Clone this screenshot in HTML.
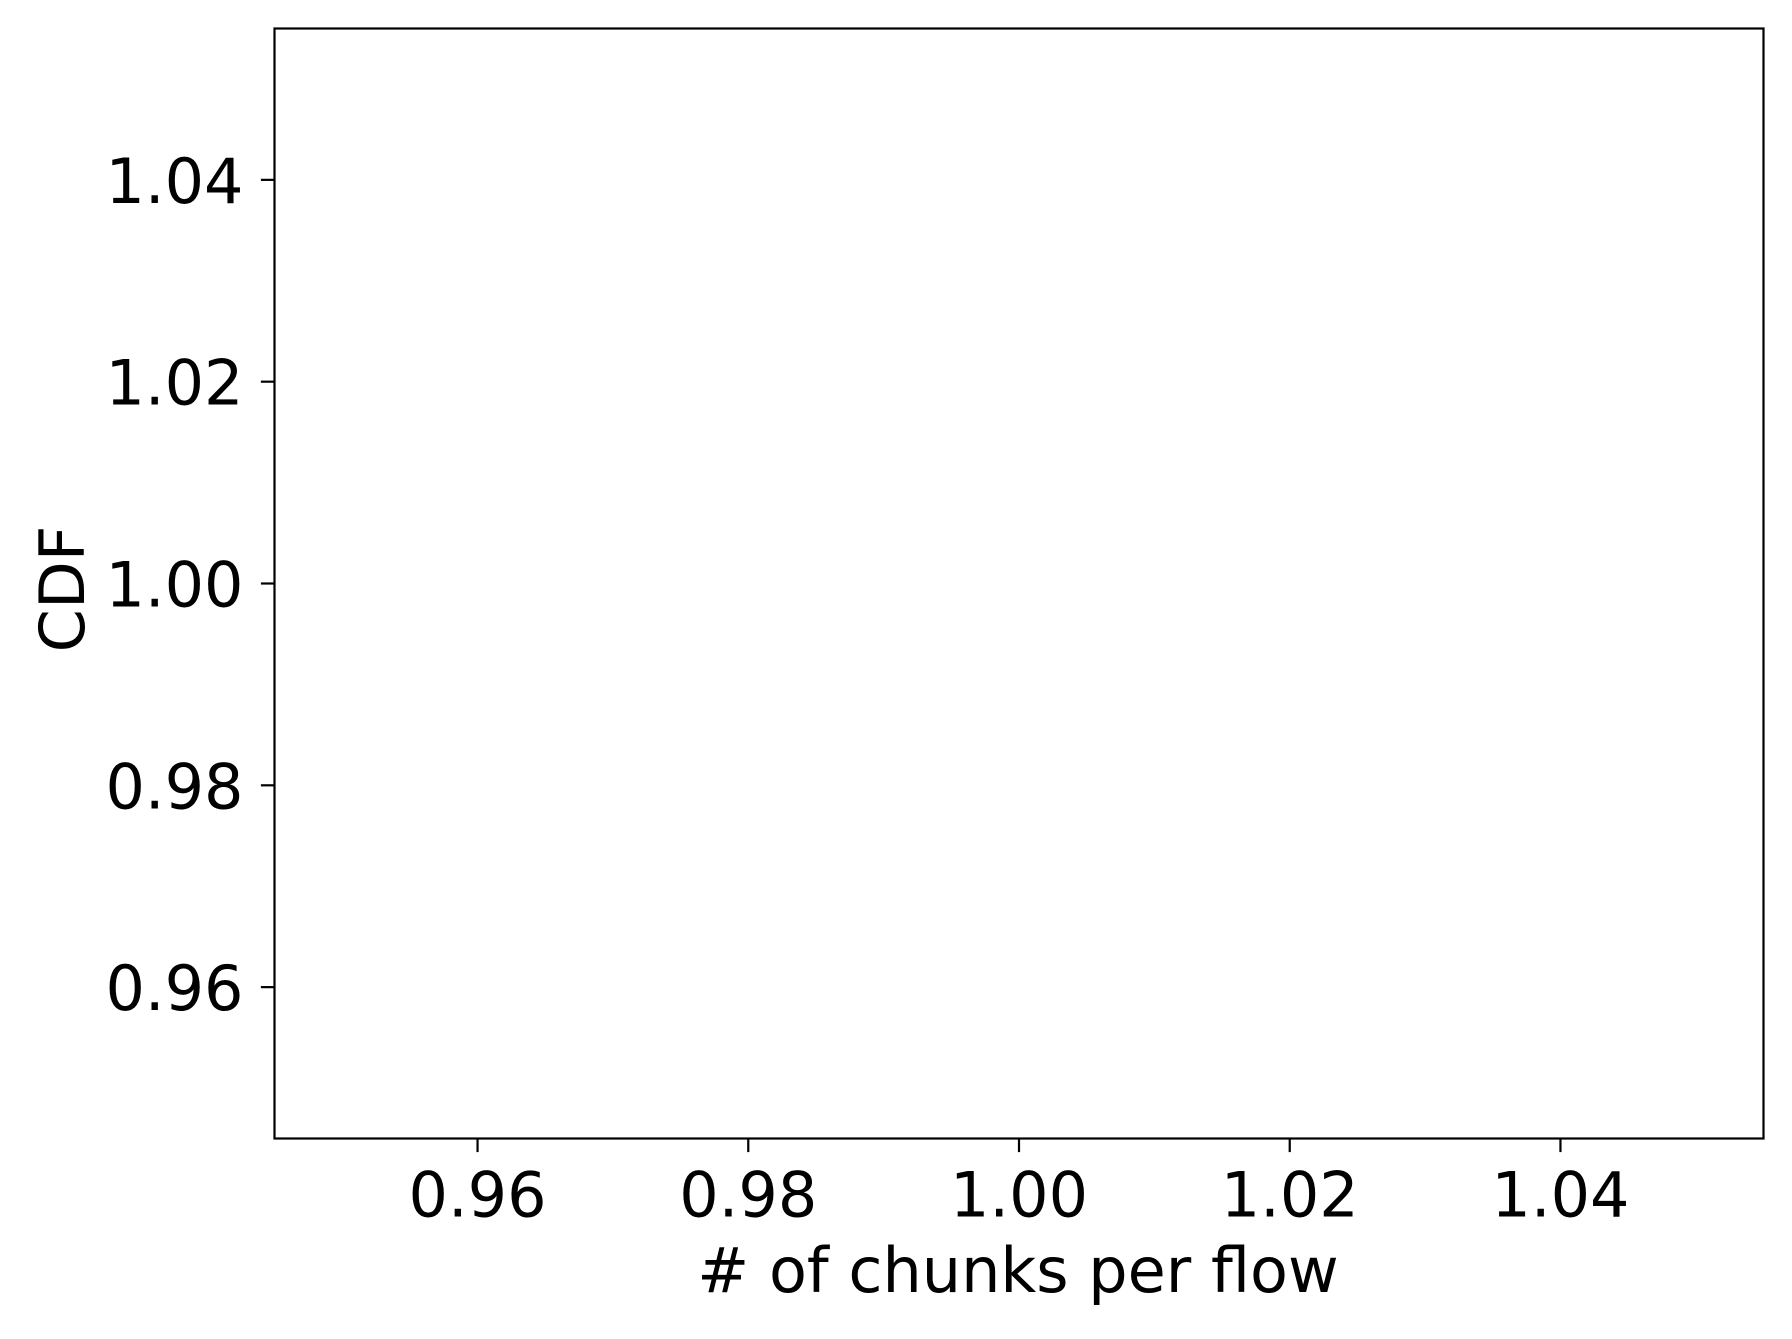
<!DOCTYPE html>
<html><head><meta charset="utf-8"><style>
html,body{margin:0;padding:0;background:#fff;}
svg text{font-family:"DejaVu Sans","Liberation Sans",sans-serif;font-size:62px;fill:#000;}
</style></head><body>
<svg id="chart" width="1792" height="1334" viewBox="0 0 1792 1334">
<rect x="0" y="0" width="1792" height="1334" fill="#fff"/>
<g id="ticks"></g>
<rect x="274.5" y="28.5" width="1489" height="1110" fill="none" stroke="#000" stroke-width="2.2"/>
<text x="1018" y="1292" text-anchor="middle"># of chunks per flow</text>
<text transform="translate(84,589) rotate(-90)" text-anchor="middle">CDF</text>
</svg>
<script>
const xTicks=[0.96,0.98,1.00,1.02,1.04];
const xTickLabels=["0.96","0.98","1.00","1.02","1.04"];
const yTicks=[0.96,0.98,1.00,1.02,1.04];
const yTickLabels=["0.96","0.98","1.00","1.02","1.04"];
const xDomain=[0.945,1.055];
const yDomain=[0.945,1.055];
const L=274.5,R=1763.5,T=28.5,B=1138.5;
function xs(v){return L+(v-xDomain[0])/(xDomain[1]-xDomain[0])*(R-L);}
function ys(v){return B-(v-yDomain[0])/(yDomain[1]-yDomain[0])*(B-T);}
const g=document.getElementById('ticks');
const NS='http://www.w3.org/2000/svg';
xTicks.forEach((v,i)=>{
  const l=document.createElementNS(NS,'line');
  l.setAttribute('x1',xs(v));l.setAttribute('x2',xs(v));l.setAttribute('y1',B);l.setAttribute('y2',B+13.6);
  l.setAttribute('stroke','#000');l.setAttribute('stroke-width','2.2');
  
  
  g.appendChild(l);
  const t=document.createElementNS(NS,'text');
  t.setAttribute('x',xs(v));t.setAttribute('y',B+78);t.setAttribute('text-anchor','middle');
  t.textContent=xTickLabels[i];
  
  
  g.appendChild(t);
});
yTicks.forEach((v,i)=>{
  const l=document.createElementNS(NS,'line');
  l.setAttribute('y1',ys(v));l.setAttribute('y2',ys(v));l.setAttribute('x1',L);l.setAttribute('x2',L-13.6);
  l.setAttribute('stroke','#000');l.setAttribute('stroke-width','2.2');
  
  
  g.appendChild(l);
  const t=document.createElementNS(NS,'text');
  t.setAttribute('x',L-31);t.setAttribute('y',ys(v)+23);t.setAttribute('text-anchor','end');
  t.textContent=yTickLabels[i];
  
  
  g.appendChild(t);
});
</script>
</body></html>
